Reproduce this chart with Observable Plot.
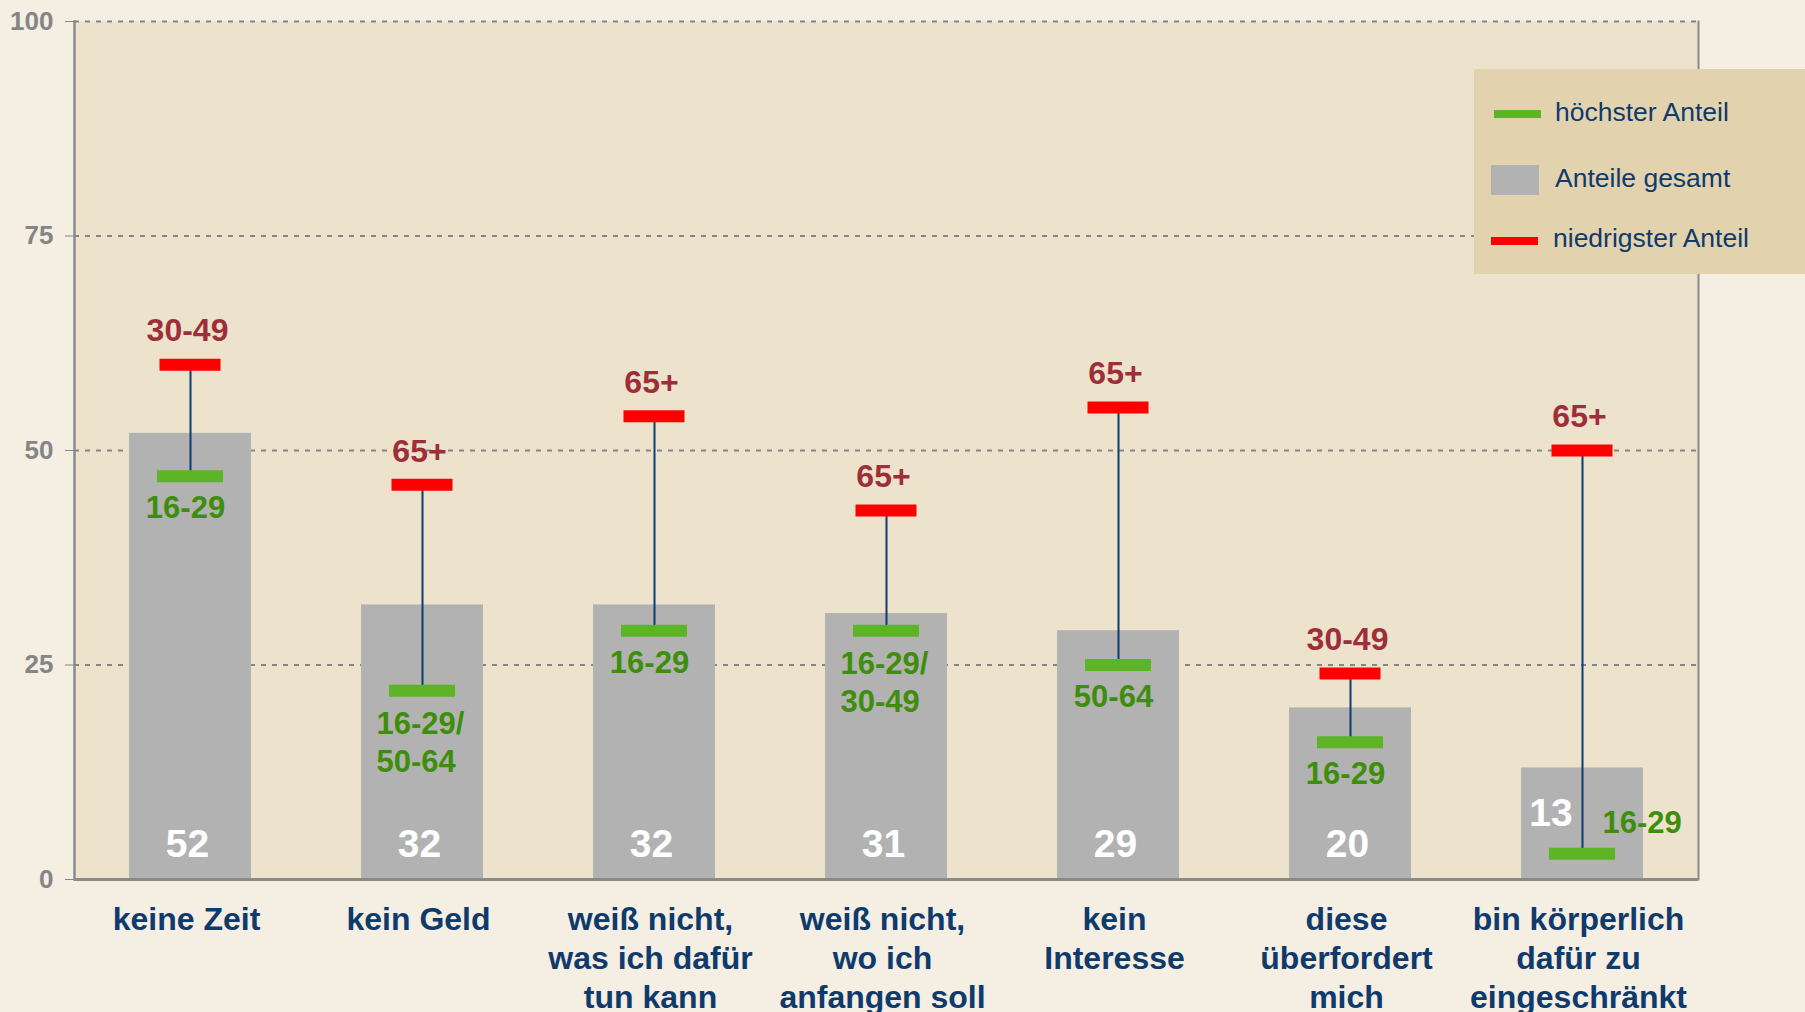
<!DOCTYPE html>
<html>
<head>
<meta charset="utf-8">
<script src="https://cdn.jsdelivr.net/npm/d3@7"></script>
<script src="https://cdn.jsdelivr.net/npm/@observablehq/plot@0.6"></script>
<style>
  html, body { margin: 0; padding: 0; background: #f5eee3; }
  #wrap { position: relative; width: 1805px; height: 1012px; overflow: hidden;
          font-family: "Liberation Sans", Arial, Helvetica, sans-serif; }
  #legend { position: absolute; left: 1474px; top: 69px; width: 331px; height: 205px; background: #e3d2ae; }
  #legend .sw { position: absolute; }
  #legend .lt { position: absolute; left: 81px; font-size: 26.5px; color: #0e3a6c; line-height: 30px; white-space: nowrap; }
</style>
</head>
<body>
<div id="wrap">
  <div id="chart"></div>
  <div id="legend"></div>
</div>
<script>
// ---- data ----
const categories = [
  "keine Zeit", "kein Geld", "weiß nicht, was ich dafür tun kann",
  "weiß nicht, wo ich anfangen soll", "kein Interesse",
  "diese überfordert mich", "bin körperlich dafür zu eingeschränkt"
];
const tickLabels = [
  "keine Zeit", "kein Geld", "weiß nicht,\nwas ich dafür\ntun kann",
  "weiß nicht,\nwo ich\nanfangen soll", "kein\nInteresse",
  "diese\nüberfordert\nmich", "bin körperlich\ndafür zu\neingeschränkt"
];
const totals  = [52, 32, 32, 31, 29, 20, 13];
const highest = [47, 22, 29, 29, 25, 16, 3];   // green markers
const lowest  = [60, 46, 54, 43, 55, 24, 50];  // red markers
const highestGroup = ["16-29", "16-29/50-64", "16-29", "16-29/30-49", "50-64", "16-29", "16-29"];
const lowestGroup  = ["30-49", "65+", "65+", "65+", "65+", "30-49", "65+"];
const yTicks = [0, 25, 50, 75, 100];
const legendLabels = ["höchster Anteil", "Anteile gesamt", "niedrigster Anteil"];

// ---- colours ----
const GREEN = "#5db526", GREEN_TXT = "#3e8e0c", RED = "#ff0000", RED_TXT = "#9e2f3a";
const GRAY = "#b2b2b2", NAVY = "#0e3a6c", AXIS = "#8a8a8a";

const rows = categories.map((cat, i) => ({
  cat, total: totals[i], high: highest[i], low: lowest[i],
  hg: highestGroup[i], lg: lowestGroup[i]
}));
const tickMap = new Map(categories.map((c, i) => [c, tickLabels[i]]));

const bold = {fontWeight: "bold"};

const chart = Plot.plot({
  width: 1805,
  height: 1012,
  marginLeft: 74,
  marginRight: 107,
  marginTop: 21,
  marginBottom: 133,
  style: {background: "transparent", fontFamily: "'Liberation Sans', Arial, Helvetica, sans-serif", overflow: "visible"},
  x: {domain: categories, paddingInner: 0.474, paddingOuter: 0.237, label: null},
  y: {domain: [0, 100], label: null},
  marks: [
    Plot.frame({fill: "#ede3cd", stroke: null}),
    Plot.ruleY(yTicks.filter(v => v > 0), {stroke: "#858585", strokeWidth: 2, strokeDasharray: "5,6"}),
    Plot.frame({anchor: "right", stroke: AXIS, strokeWidth: 2}),
    Plot.barY(rows, {x: "cat", y: "total", fill: GRAY}),
    Plot.frame({anchor: "left", stroke: AXIS, strokeWidth: 2.5}),
    Plot.ruleY([0], {stroke: AXIS, strokeWidth: 3}),
    Plot.axisY({ticks: yTicks, tickSize: 9, tickPadding: 12, fontSize: 26, ...bold, color: "#858585", tickFormat: d => String(d)}),
    Plot.axisX({tickSize: 0, tickPadding: 23, fontSize: 32, ...bold, fill: NAVY, lineHeight: 1.22, dx: -4,
                tickFormat: d => tickMap.get(d)}),
    // connector
    Plot.ruleX(rows, {x: "cat", y1: "high", y2: "low", stroke: NAVY, strokeWidth: 2}),
    // markers
    Plot.tickY(rows, {x: "cat", y: "high", stroke: GREEN, strokeWidth: 12, insetLeft: 28, insetRight: 28}),
    Plot.tickY(rows, {x: "cat", y: "low", stroke: RED, strokeWidth: 12, insetLeft: 30.5, insetRight: 30.5}),
    // red labels
    Plot.text(rows, {x: "cat", y: "low", text: "lg", dx: -3, dy: -33.5, fill: RED_TXT, fontSize: 32, ...bold}),
    // green labels: single line below marker
    Plot.text(rows.filter(d => !d.hg.includes("/") && d.high >= 10),
      {x: "cat", y: "high", text: "hg", dx: -5, dy: 32, fill: GREEN_TXT, fontSize: 31, ...bold}),
    // green labels: two lines below marker
    Plot.text(rows.filter(d => d.hg.includes("/")),
      {x: "cat", y: "high", text: d => d.hg.replace("/", "/\n"), textAnchor: "start", dx: -46,
       lineAnchor: "top", dy: 16, lineHeight: 1.23, fill: GREEN_TXT, fontSize: 31, ...bold}),
    // green label beside a marker too close to the base
    Plot.text(rows.filter(d => d.high < 10),
      {x: "cat", y: "high", text: "hg", textAnchor: "start", dx: 20, dy: -31, fill: GREEN_TXT, fontSize: 31, ...bold}),
    // total values
    Plot.text(rows.filter(d => d.high >= 10),
      {x: "cat", y: d => 0, text: d => String(d.total), dx: -3, dy: -35, fill: "#ffffff", fontSize: 39, ...bold}),
    Plot.text(rows.filter(d => d.high < 10),
      {x: "cat", y: d => 0, text: d => String(d.total), dx: -31.5, dy: -66, fill: "#ffffff", fontSize: 39, ...bold})
  ]
});
document.getElementById("chart").appendChild(chart);

// ---- legend ----
const lg = document.getElementById("legend");
const swatches = [
  {style: `left:20px;top:41px;width:47px;height:8px;background:${GREEN}`, ty: 28, lx: 81},
  {style: `left:17px;top:96px;width:48px;height:30px;background:${GRAY}`, ty: 94, lx: 81},
  {style: `left:17px;top:168px;width:47px;height:8px;background:${RED}`, ty: 154, lx: 79}
];
legendLabels.forEach((t, i) => {
  const s = document.createElement("div");
  s.className = "sw"; s.setAttribute("style", swatches[i].style);
  lg.appendChild(s);
  const l = document.createElement("div");
  l.className = "lt"; l.textContent = t;
  l.style.top = swatches[i].ty + "px";
  l.style.left = swatches[i].lx + "px";
  lg.appendChild(l);
});
</script>
</body>
</html>
